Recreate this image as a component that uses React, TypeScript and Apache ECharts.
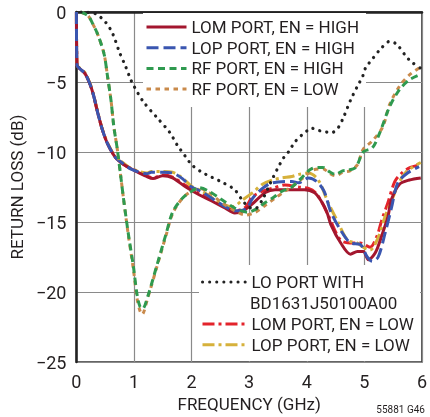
import React, { useEffect, useRef } from "react";
import * as echarts from "echarts";

const xTicks = [0, 1, 2, 3, 4, 5, 6];
const yTicks = [-25, -20, -15, -10, -5, 0];

const lomHigh: number[][] = [[0,0],[0.01,-3.8],[0.06,-4.05],[0.15,-4.4],[0.24,-5.2],[0.3,-6.0],[0.37,-7.2],[0.45,-8.4],[0.54,-9.4],[0.68,-10.4],[0.82,-10.9],[1.0,-11.3],[1.22,-11.75],[1.33,-11.9],[1.5,-11.7],[1.67,-11.85],[1.9,-12.5],[2.13,-13.05],[2.35,-13.5],[2.58,-14.0],[2.75,-14.35],[2.89,-14.2],[3.03,-13.8],[3.28,-12.9],[3.45,-12.7],[3.74,-12.7],[3.96,-12.7],[4.13,-12.9],[4.25,-13.5],[4.35,-14.3],[4.42,-15.2],[4.59,-16.5],[4.76,-17.3],[4.88,-17.1],[4.98,-17.1],[5.07,-17.7],[5.19,-17.2],[5.3,-16.0],[5.41,-14.6],[5.47,-13.4],[5.61,-12.3],[5.78,-12.0],[5.98,-11.85]];
const lopHigh: number[][] = [[0,0],[0.01,-3.8],[0.06,-4.05],[0.15,-4.4],[0.24,-5.2],[0.3,-6.0],[0.37,-7.2],[0.45,-8.4],[0.54,-9.4],[0.68,-10.4],[0.82,-10.85],[0.94,-11.2],[1.1,-11.45],[1.22,-11.55],[1.3,-11.45],[1.5,-11.45],[1.67,-11.5],[1.84,-11.9],[2.0,-12.5],[2.16,-12.8],[2.35,-13.3],[2.58,-13.9],[2.75,-14.2],[2.95,-14.05],[3.06,-13.3],[3.23,-12.6],[3.4,-12.2],[3.74,-12.1],[3.86,-12.2],[4.03,-11.85],[4.17,-12.1],[4.3,-12.8],[4.42,-14.3],[4.59,-15.6],[4.76,-16.5],[4.93,-16.6],[5.05,-17.5],[5.14,-17.8],[5.24,-17.5],[5.36,-15.8],[5.47,-14.0],[5.58,-12.2],[5.75,-11.5],[5.95,-11.05]];
const rfHigh: number[][] = [[0.07,0],[0.2,-0.26],[0.29,-0.9],[0.37,-1.6],[0.48,-3.0],[0.54,-4.6],[0.6,-6.3],[0.65,-8.2],[0.71,-9.8],[0.77,-11.75],[0.82,-13.4],[0.9,-15.8],[0.99,-18.2],[1.05,-20.1],[1.1,-21.0],[1.15,-21.2],[1.24,-20.3],[1.39,-18.2],[1.56,-15.8],[1.67,-14.3],[1.84,-13.3],[2.0,-12.8],[2.13,-12.55],[2.3,-12.8],[2.52,-13.4],[2.75,-14.0],[2.98,-14.3],[3.11,-14.1],[3.23,-13.75],[3.4,-13.3],[3.57,-12.8],[3.74,-12.5],[3.91,-11.85],[4.08,-11.2],[4.28,-11.1],[4.39,-11.4],[4.5,-11.6],[4.62,-11.35],[4.71,-11.3],[4.85,-11.1],[4.98,-10.0],[5.14,-9.7],[5.27,-8.6],[5.44,-6.75],[5.61,-5.55],[5.78,-4.85],[5.95,-4.5]];
const rfLow: number[][] = [[0.07,0],[0.2,-0.26],[0.29,-0.9],[0.37,-1.6],[0.48,-3.0],[0.54,-4.6],[0.6,-6.3],[0.65,-8.2],[0.71,-9.8],[0.77,-11.75],[0.82,-13.4],[0.9,-15.9],[0.99,-18.4],[1.05,-20.4],[1.1,-21.3],[1.14,-21.6],[1.24,-20.4],[1.39,-18.3],[1.56,-15.9],[1.67,-14.4],[1.84,-13.3],[2.0,-12.8],[2.13,-12.6],[2.3,-12.9],[2.52,-13.6],[2.75,-14.2],[2.94,-14.5],[3.11,-14.3],[3.28,-13.8],[3.45,-13.3],[3.62,-12.8],[3.8,-12.3],[3.95,-11.8],[4.1,-11.3],[4.28,-11.2],[4.39,-11.5],[4.5,-11.7],[4.62,-11.45],[4.75,-11.35],[4.88,-10.9],[4.98,-9.8],[5.14,-9.2],[5.32,-8.2],[5.44,-6.6],[5.61,-5.3],[5.78,-4.5],[5.95,-4.0]];
const loPort: number[][] = [[0.08,0],[0.32,-0.1],[0.51,-0.75],[0.63,-1.55],[0.75,-2.9],[0.85,-3.85],[0.94,-4.8],[1.0,-5.3],[1.16,-6.4],[1.39,-7.5],[1.62,-8.6],[1.75,-9.5],[1.89,-10.3],[2.0,-10.9],[2.16,-11.4],[2.35,-11.8],[2.55,-12.2],[2.75,-12.7],[2.89,-13.5],[3.0,-13.95],[3.1,-14.05],[3.23,-13.4],[3.37,-12.2],[3.49,-11.2],[3.6,-10.4],[3.69,-9.95],[3.79,-9.3],[3.91,-8.8],[4.0,-8.5],[4.08,-8.3],[4.2,-8.45],[4.3,-8.55],[4.44,-8.6],[4.54,-8.3],[4.64,-7.5],[4.76,-6.3],[4.88,-5.3],[4.97,-4.6],[5.02,-4.0],[5.15,-3.3],[5.27,-2.7],[5.44,-2.1],[5.56,-2.3],[5.73,-3.2],[5.83,-3.6],[5.97,-4.0]];
const lomLow: number[][] = [[0,0],[0.01,-3.8],[0.06,-4.05],[0.15,-4.4],[0.24,-5.2],[0.3,-6.0],[0.37,-7.2],[0.45,-8.4],[0.54,-9.4],[0.68,-10.4],[0.82,-10.9],[1.0,-11.3],[1.22,-11.7],[1.33,-11.85],[1.5,-11.65],[1.67,-11.8],[1.9,-12.4],[2.13,-12.95],[2.35,-13.4],[2.58,-13.9],[2.75,-14.2],[2.92,-14.0],[3.06,-13.2],[3.23,-12.8],[3.4,-12.6],[3.62,-12.35],[3.86,-12.5],[4.03,-12.6],[4.15,-12.9],[4.25,-13.5],[4.37,-14.5],[4.59,-16.3],[4.81,-16.5],[4.93,-16.5],[5.1,-16.8],[5.22,-16.0],[5.3,-14.9],[5.41,-13.6],[5.53,-12.1],[5.65,-11.5],[5.8,-11.1],[5.98,-10.9]];
const lopLow: number[][] = [[0,0],[0.01,-3.8],[0.06,-4.0],[0.15,-4.35],[0.24,-5.15],[0.3,-5.95],[0.37,-7.15],[0.45,-8.35],[0.54,-9.35],[0.68,-10.35],[0.82,-10.8],[0.94,-11.15],[1.1,-11.4],[1.22,-11.5],[1.3,-11.4],[1.5,-11.4],[1.67,-11.45],[1.84,-11.85],[2.0,-12.45],[2.16,-12.75],[2.35,-13.25],[2.58,-13.8],[2.72,-13.9],[2.89,-13.4],[3.06,-12.9],[3.23,-12.3],[3.4,-12.0],[3.57,-11.85],[3.74,-11.75],[3.86,-11.6],[4.03,-11.5],[4.2,-12.0],[4.37,-13.6],[4.54,-15.0],[4.71,-16.3],[4.88,-16.5],[4.98,-16.8],[5.1,-17.0],[5.24,-16.1],[5.36,-14.6],[5.5,-13.2],[5.6,-12.2],[5.73,-11.4],[5.98,-10.75]];

const names = {
  lomHigh: "LOM PORT, EN = HIGH",
  lopHigh: "LOP PORT, EN = HIGH",
  rfHigh: "RF PORT, EN = HIGH",
  rfLow: "RF PORT, EN = LOW",
  lo: "LO PORT WITH BD1631J50100A00",
  lomLow: "LOM PORT, EN = LOW",
  lopLow: "LOP PORT, EN = LOW",
};

const FONT = "'Liberation Sans Narrow', 'Roboto', sans-serif";
const TXT = "#231f20";

export default function App() {
  const ref = useRef<HTMLDivElement>(null);
  useEffect(() => {
    if (!ref.current) return;
    const chart = echarts.init(ref.current, null, { renderer: "svg" });
    const mk = (name: string, data: number[][], color: string, width: number, type: any, cap: any = "butt") => ({
      name,
      type: "line",
      data,
      symbol: "none",
      smooth: 0.3,
      lineStyle: { color, width, type, cap },
      itemStyle: { color },
    });
    const legendText = { color: TXT, fontFamily: FONT, fontSize: 17, lineHeight: 18 };
    const legendCommon = { orient: "vertical", padding: 0, itemHeight: 14, itemGap: 2.7, textStyle: legendText,
      itemStyle: { opacity: 0 }, lineStyle: { width: 3 } };
    chart.setOption({
      animation: false,
      grid: { left: 75, right: 3, top: 12, bottom: 55, show: true, borderColor: "#333", borderWidth: 1.5 },
      xAxis: {
        type: "value", min: 0, max: 6, interval: 1,
        name: "FREQUENCY (GHz)", nameLocation: "middle", nameGap: 33,
        nameTextStyle: { color: TXT, fontFamily: FONT, fontSize: 17 },
        axisLine: { show: true, lineStyle: { color: "#222", width: 2.5 } },
        axisTick: { show: false },
        axisLabel: { color: TXT, fontFamily: FONT, fontSize: 18, margin: 10 },
        splitLine: { show: true, lineStyle: { color: "#8a8a8a", width: 1.2 } },
      },
      yAxis: {
        type: "value", min: -25, max: 0, interval: 5,
        name: "RETURN LOSS (dB)", nameLocation: "middle", nameGap: 41, nameRotate: 90,
        nameTextStyle: { color: TXT, fontFamily: FONT, fontSize: 17 },
        axisLine: { show: true, lineStyle: { color: "#222", width: 2.5 } },
        axisTick: { show: false },
        axisLabel: { color: TXT, fontFamily: FONT, fontSize: 18, margin: 10,
          formatter: (v: number) => (v < 0 ? "\u2212" + Math.abs(v) : String(v)) },
        splitLine: { show: true, lineStyle: { color: "#8a8a8a", width: 1.2 } },
      },
      legend: [
        { ...legendCommon, data: [names.lomHigh, names.lopHigh, names.rfHigh, names.rfLow], left: 145, top: 18, itemWidth: 40 },
        { ...legendCommon, data: [names.lo], left: 201, top: 273, itemWidth: 44, formatter: () => "LO PORT WITH" },
        { ...legendCommon, data: [names.lomLow, names.lopLow], left: 201, top: 315, itemWidth: 44 },
      ],
      graphic: [
        { type: "rect", z: 1, shape: { x: 143, y: 13, width: 223, height: 94 }, style: { fill: "#fff" } },
        { type: "rect", z: 1, shape: { x: 199, y: 265, width: 221, height: 96 }, style: { fill: "#fff" } },
        { type: "text", z: 5, x: 250, y: 303, style: { text: "BD1631J50100A00", fill: TXT, font: `17px ${FONT}`, verticalAlign: "middle" } },
        { type: "text", z: 5, x: 425, y: 409, style: { text: "55881 G46", fill: TXT, font: `10px ${FONT}`, align: "right", verticalAlign: "middle" } },
      ],
      series: [
        mk(names.lomLow, lomLow, "#e3232b", 3, [12, 4, 3, 4]),
        mk(names.lopLow, lopLow, "#d6b13b", 3, [12, 4, 3, 4]),
        mk(names.lomHigh, lomHigh, "#a3162e", 3, "solid"),
        mk(names.lopHigh, lopHigh, "#3a56b0", 3, [12, 5]),
        mk(names.rfLow, rfLow, "#c98a4b", 3, [4.5, 4.5]),
        mk(names.rfHigh, rfHigh, "#2f9a4f", 3, [7, 4.5]),
        mk(names.lo, loPort, "#222", 3.2, [0.1, 7], "round"),
      ],
    });
    return () => chart.dispose();
  }, []);
  return <div ref={ref} style={{ position: "fixed", left: 0, top: 0, width: 430, height: 417 }} />;
}
